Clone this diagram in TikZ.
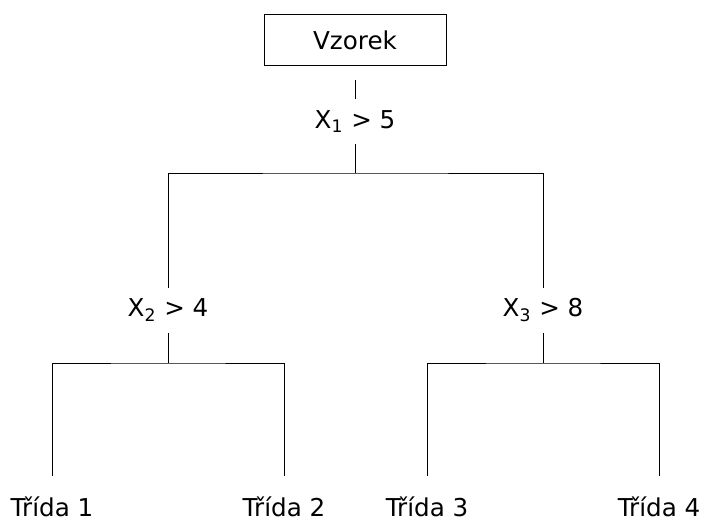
\documentclass[tikz,border=0pt]{standalone}
\usepackage{fontspec}
\setmainfont{DejaVu Sans}

\begin{document}
\begin{tikzpicture}[x=0.5pt,y=-0.5pt,line width=0.5pt,
        every node/.style={font=\fontsize{12.3}{14}\selectfont,inner sep=0pt},
        rootbox/.style={draw,minimum width=91pt,minimum height=25.5pt},
        test/.style={minimum height=22pt},
        leaf/.style={anchor=base}]
    \useasboundingbox (0,0) rectangle (704,518);
    % koren a prvni rozhodnuti
    \node[rootbox] (root) at (355,40.5) {Vzorek};
    \node[test] (c1) at (355,121.5) {X\textsubscript{1} > 5};
    \coordinate (s1) at (355,173);
    % druha uroven
    \node[test] (c2) at (168,310) {X\textsubscript{2} > 4};
    \node[test] (c3) at (543,310) {X\textsubscript{3} > 8};
    \coordinate (s2) at (168,363);
    \coordinate (s3) at (543,363);
    % listy
    \node[leaf] (l1) at (52,516) {Třída 1};
    \node[leaf] (l2) at (284,516) {Třída 2};
    \node[leaf] (l3) at (427,516) {Třída 3};
    \node[leaf] (l4) at (659,516) {Třída 4};
    % spojnice
    \draw[shorten <=7pt] (root) -- (c1);
    \draw (c1) -- (s1);
    \draw (c2) |- (s1) -| (c3);
    \draw (c2) -- (s2);
    \draw[shorten <=10pt,shorten >=10pt] (l1) |- (s2) -| (l2);
    \draw (c3) -- (s3);
    \draw[shorten <=10pt,shorten >=10pt] (l3) |- (s3) -| (l4);
\end{tikzpicture}
\end{document}
